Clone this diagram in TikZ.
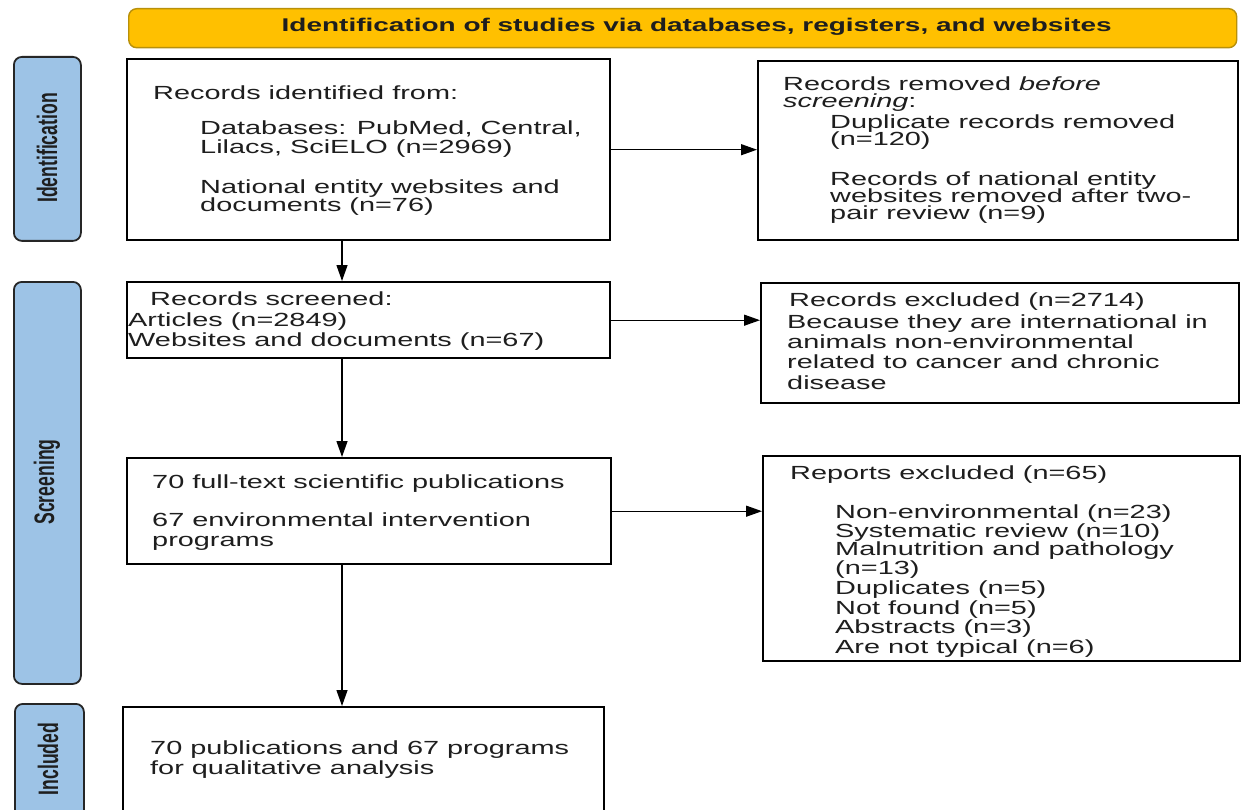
\documentclass[tikz,border=0pt]{standalone}
\usepackage{fontspec}
\setmainfont{Liberation Sans}[FakeStretch=1.52]
\newfontfamily\sidefont{Liberation Sans}
\usetikzlibrary{arrows.meta}
\definecolor{gold}{HTML}{FFC000}
\definecolor{goldedge}{HTML}{B8900A}
\definecolor{sideblue}{HTML}{9DC3E6}
\definecolor{txtgray}{HTML}{1E1E1E}
\begin{document}
\begin{tikzpicture}[x=1pt,y=-1pt,
  box/.style={draw=black, line width=2.4pt, fill=white, inner sep=0pt, anchor=north west},
  banner/.style={draw=goldedge, line width=1.4pt, fill=gold, rounded corners=8pt, inner sep=0pt, anchor=north west},
  side/.style={draw=black!85, line width=1.8pt, fill=sideblue, rounded corners=8pt, inner sep=0pt, anchor=north west},
  sidetxt/.style={inner sep=0pt, rotate=90, font=\sidefont\bfseries\fontsize{17.6}{20}\selectfont, text=txtgray},
  txt/.style={anchor=base west, inner sep=0pt, text=txtgray, font=\fontsize{19}{21}\selectfont},
  arr/.style={draw=black, line width=1.3pt, -{Triangle[length=16pt,width=11pt]}}]
\useasboundingbox (0,0) rectangle (1241,810);
\fill[white] (0,0) rectangle (1241,810);

% banner
\node[banner, minimum width=1108pt, minimum height=39pt] (ban) at (128,8) {};
\node[inner sep=0pt, font=\bfseries\fontsize{18.4}{20}\selectfont, text=txtgray] (bant) at ([xshift=14pt,yshift=1pt]ban.center) {Identification of studies via databases, registers, and websites};

% side labels
\node[side, minimum width=67pt, minimum height=184pt] (s1) at (13,56) {};
\node[side, minimum width=67pt, minimum height=402pt] (s2) at (13,281) {};
\node[side, minimum width=69pt, minimum height=130pt] (s3) at (14,703) {};
\node[sidetxt] (s1t) at (47,148) {\scalebox{1}[1.6]{Identification}};
\node[sidetxt] (s2t) at (47,482) {\scalebox{1}[1.6]{Screening}};
\node[sidetxt] (s3t) at (48,759) {\scalebox{1}[1.6]{Included}};

% boxes
\node[box, minimum width=483pt, minimum height=181pt] (b1) at (126,58) {};
\node[box, minimum width=480pt, minimum height=179pt] (r1) at (757,60) {};
\node[box, minimum width=483pt, minimum height=76pt] (b2) at (126,281) {};
\node[box, minimum width=478pt, minimum height=120pt] (r2) at (760,282) {};
\node[box, minimum width=484pt, minimum height=106pt] (b3) at (126,457) {};
\node[box, minimum width=477pt, minimum height=205pt] (r3) at (762,455) {};
\node[box, minimum width=481pt, minimum height=130pt] (b4) at (122,706) {};

% texts box 1
\node[txt] (b1a) at (153,100) {Records identified from:};
\node[txt] (b1b) at (200,135) {Databases: PubMed, Central,};
\node[txt] (b1c) at (200,154) {Lilacs, SciELO (n=2969)};
\node[txt] (b1d) at (200,194) {National entity websites and};
\node[txt] (b1e) at (200,212) {documents (n=76)};

% texts right 1
\node[txt] (r1a) at (783,91) {Records removed \textit{before}};
\node[txt] (r1b) at (783,108) {\textit{screening}:};
\node[txt] (r1c) at (830,129) {Duplicate records removed};
\node[txt] (r1d) at (830,146) {(n=120)};
\node[txt] (r1e) at (830,186) {Records of national entity};
\node[txt] (r1f) at (830,203) {websites removed after two-};
\node[txt] (r1g) at (830,220) {pair review (n=9)};

% texts box 2
\node[txt] (b2a) at (150,305) {Records screened:};
\node[txt] (b2b) at (128,326) {Articles (n=2849)};
\node[txt] (b2c) at (128,346) {Websites and documents (n=67)};

% texts right 2
\node[txt] (r2a) at (789,306) {Records excluded (n=2714)};
\node[txt] (r2b) at (787,328) {Because they are international in};
\node[txt] (r2c) at (787,348) {animals non-environmental};
\node[txt] (r2d) at (787,368) {related to cancer and chronic};
\node[txt] (r2e) at (787,389) {disease};

% texts box 3
\node[txt] (b3a) at (152,488) {70 full-text scientific publications};
\node[txt] (b3b) at (152,526) {67 environmental intervention};
\node[txt] (b3c) at (152,546) {programs};

% texts right 3
\node[txt] (r3a) at (790,479) {Reports excluded (n=65)};
\node[txt] (r3b) at (835,518) {Non-environmental (n=23)};
\node[txt] (r3c) at (835,537) {Systematic review (n=10)};
\node[txt] (r3d) at (835,555) {Malnutrition and pathology};
\node[txt] (r3e) at (835,574) {(n=13)};
\node[txt] (r3f) at (835,594) {Duplicates (n=5)};
\node[txt] (r3g) at (835,614) {Not found (n=5)};
\node[txt] (r3h) at (835,633) {Abstracts (n=3)};
\node[txt] (r3i) at (835,653) {Are not typical (n=6)};

% texts box 4
\node[txt] (b4a) at (150,754) {70 publications and 67 programs};
\node[txt] (b4b) at (150,774) {for qualitative analysis};

% connectors
\coordinate (ax) at (342,0);
\draw[arr] (b1.south -| ax) -- (b2.north -| ax);
\draw[arr] (b2.south -| ax) -- (b3.north -| ax);
\draw[arr] (b3.south -| ax) -- (b4.north -| ax);
\draw[arr] (b1.east) -- (b1.east -| r1.west);
\draw[arr] (b2.east) -- (b2.east -| r2.west);
\draw[arr] (b3.east) -- (b3.east -| r3.west);
\end{tikzpicture}
\end{document}
